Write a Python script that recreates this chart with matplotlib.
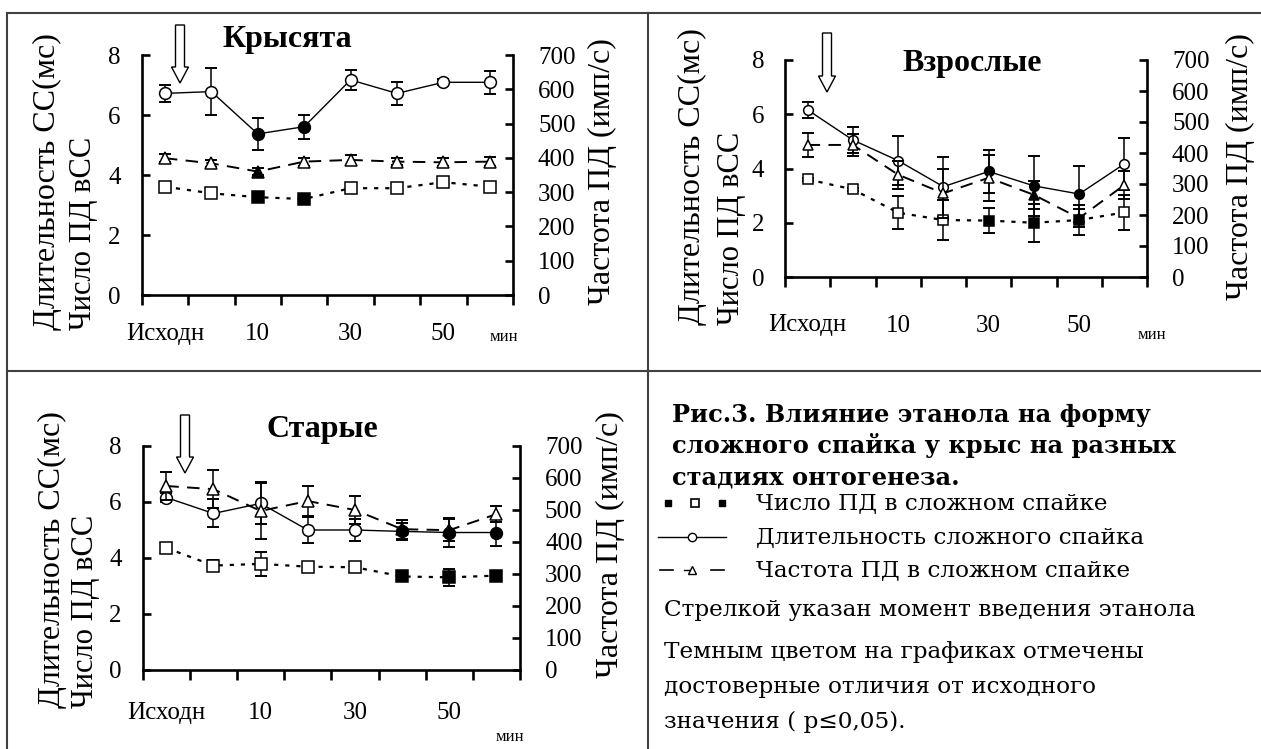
import numpy as np
import matplotlib
matplotlib.use('Agg')
import matplotlib.pyplot as plt
from matplotlib.patches import Polygon

plt.rcParams['font.family'] = ['Liberation Serif', 'DejaVu Serif']
plt.rcParams['lines.scale_dashes'] = False

# ---------------- data ----------------
x_labels = ['Исходн', '', '10', '', '30', '', '50', 'мин']
panel_titles = ['Крысята', 'Взрослые', 'Старые']

# Крысята
pups_dur = [6.72, 6.78, 5.37, 5.61, 7.17, 6.72, 7.09, 7.09]
pups_dur_err = [0.29, 0.78, 0.53, 0.40, 0.34, 0.37, 0.10, 0.39]
pups_dur_sig = [0, 0, 1, 1, 0, 0, 0, 0]
pups_num = [3.61, 3.39, 3.26, 3.20, 3.56, 3.56, 3.76, 3.61]
pups_num_err = [0.05, 0.12, 0.08, 0.08, 0.08, 0.12, 0.10, 0.06]
pups_num_sig = [0, 0, 1, 1, 0, 0, 0, 0]
pups_frq = [399, 384, 360, 389, 394, 389, 387, 389]
pups_frq_err = [12, 10, 10, 12, 14, 10, 12, 14]
pups_frq_sig = [0, 0, 1, 0, 0, 0, 0, 0]

# Взрослые
adult_dur = [6.16, 5.05, 4.29, 3.33, 3.89, 3.36, 3.06, 4.17]
adult_dur_err = [0.30, 0.48, 0.90, 1.10, 0.80, 1.10, 1.05, 0.97]
adult_dur_sig = [0, 0, 0, 0, 1, 1, 1, 0]
adult_num = [3.60, 3.23, 2.37, 2.10, 2.08, 2.00, 2.10, 2.38]
adult_num_err = [0.05, 0.06, 0.60, 0.74, 0.45, 0.70, 0.55, 0.65]
adult_num_sig = [0, 0, 0, 0, 1, 1, 1, 0]
adult_frq = [426, 426, 330, 270, 320, 265, 190, 297]
adult_frq_err = [40, 35, 45, 80, 75, 45, 30, 45]
adult_frq_sig = [0, 0, 0, 0, 0, 1, 1, 0]

# Старые
old_dur = [6.16, 5.59, 5.95, 5.00, 5.00, 4.95, 4.91, 4.91]
old_dur_err = [0.15, 0.50, 0.75, 0.47, 0.40, 0.30, 0.53, 0.47]
old_dur_sig = [0, 0, 0, 0, 0, 1, 1, 1]
old_num = [4.36, 3.73, 3.79, 3.69, 3.67, 3.34, 3.31, 3.37]
old_num_err = [0.12, 0.20, 0.43, 0.08, 0.08, 0.10, 0.30, 0.12]
old_num_sig = [0, 0, 0, 0, 0, 1, 1, 1]
old_frq = [575, 565, 497, 528, 500, 440, 437, 487]
old_frq_err = [44, 60, 88, 47, 44, 30, 35, 26]
old_frq_sig = [0, 0, 0, 0, 0, 1, 1, 0]

left_ticks = [0, 2, 4, 6, 8]
right_ticks = [0, 100, 200, 300, 400, 500, 600, 700]

caption_lines = ['Рис.3. Влияние этанола на форму',
                 'сложного спайка у крыс на разных',
                 'стадиях онтогенеза.']
legend_labels = ['Число ПД в сложном спайке',
                 'Длительность сложного спайка',
                 'Частота ПД в сложном спайке']
note_lines = ['Стрелкой указан момент введения этанола',
              'Темным цветом на графиках отмечены',
              'достоверные отличия от исходного',
              'значения ( p≤0,05).']

# ---------------- figure ----------------
W, H = 1261, 749
fig = plt.figure(figsize=(W / 100, H / 100), dpi=100)
fig.patch.set_facecolor('white')
WIDE = ['DejaVu Serif', 'Liberation Serif']


def px_rect(l, r, t, b):
    return [l / W, 1 - b / H, (r - l) / W, (b - t) / H]


def series(ax, x, y, err, sig, marker, ms, ls, lw):
    y = np.asarray(y, float)
    sig = np.asarray(sig, bool)
    ax.errorbar(x, y, yerr=err, fmt='none', ecolor='k', elinewidth=1.1,
                capsize=4, capthick=1.4, zorder=2)
    ax.plot(x, y, linestyle=ls, color='k', lw=lw, zorder=3)
    ax.plot(x[~sig], y[~sig], linestyle='none', marker=marker, ms=ms,
            mfc='white', mec='k', mew=1.1, zorder=4)
    ax.plot(x[sig], y[sig], linestyle='none', marker=marker, ms=ms,
            mfc='k', mec='k', mew=1.1, zorder=4)


def panel(rect, dur, dur_err, dur_sig, num, num_err, num_sig,
          frq, frq_err, frq_sig, ms, xpad):
    ax = fig.add_axes(rect)
    ax2 = ax.twinx()
    x = np.arange(len(x_labels))
    ax.set_xlim(-0.5, len(x_labels) - 0.5)
    ax.set_ylim(0, 8)
    ax2.set_ylim(0, 700)
    ax.patch.set_alpha(0)

    series(ax, x, dur, dur_err, dur_sig, 'o', ms, '-', 1.0)
    series(ax, x, num, num_err, num_sig, 's', ms, (0, (3, 5)), 1.6)
    series(ax2, x, frq, frq_err, frq_sig, '^', ms, (0, (9, 6)), 1.4)

    for s in ['top', 'right']:
        ax.spines[s].set_visible(False)
    for s in ['top', 'left', 'bottom']:
        ax2.spines[s].set_visible(False)
    for s in ['left', 'bottom']:
        ax.spines[s].set_linewidth(1.9)
    ax2.spines['right'].set_linewidth(1.9)

    ax.set_yticks(left_ticks)
    ax.tick_params(axis='y', direction='in', length=6, width=1.9, pad=15,
                   labelsize=18)
    ax2.set_yticks(right_ticks)
    ax2.tick_params(axis='y', direction='in', length=6, width=1.9, pad=18,
                    labelsize=18)
    ax.set_xticks(np.arange(-0.5, len(x_labels), 1.0))
    ax.set_xticklabels([])
    ax.tick_params(axis='x', which='major', direction='out', length=7,
                   width=1.9)
    ax.set_xticks(x, minor=True)
    ax.set_xticklabels(x_labels[:-1] + [''], minor=True)
    ax.tick_params(axis='x', which='minor', length=0, pad=xpad, labelsize=18)
    return ax


panel(px_rect(141.7, 513, 55, 295), pups_dur, pups_dur_err, pups_dur_sig,
      pups_num, pups_num_err, pups_num_sig, pups_frq, pups_frq_err,
      pups_frq_sig, 8.5, 20)
panel(px_rect(785, 1147, 60, 277), adult_dur, adult_dur_err, adult_dur_sig,
      adult_num, adult_num_err, adult_num_sig, adult_frq, adult_frq_err,
      adult_frq_sig, 7, 27)
panel(px_rect(142.7, 520, 446, 670), old_dur, old_dur_err, old_dur_sig,
      old_num, old_num_err, old_num_sig, old_frq, old_frq_err,
      old_frq_sig, 8.5, 23)

# ---------------- overlay (decorations, text) ----------------
ov = fig.add_axes([0, 0, 1, 1])
ov.set_xlim(0, W)
ov.set_ylim(H, 0)
ov.axis('off')

bc = '#404040'
ov.plot([7, W], [13, 13], color=bc, lw=1.5)
ov.plot([7, W], [371, 371], color=bc, lw=1.5)
ov.plot([7, 7], [13, H], color=bc, lw=1.5)
ov.plot([648, 648], [13, H], color=bc, lw=1.5)

# panel titles
for (tx, ty), t in zip([(287, 40), (972, 63), (322, 430)], panel_titles):
    ov.text(tx, ty, t, fontsize=23, fontweight='bold', ha='center',
            va='center')

# axis labels
for xl1, xl2, xr, yb, yr in [(47, 84, 602, 330, 305),
                             (692, 732, 1240, 325, 300),
                             (52, 86, 610, 708, 678)]:
    ov.text(xl1, yb, 'Длительность СС(мс)', rotation=90, fontsize=23,
            ha='center', va='bottom')
    ov.text(xl2, yb, 'Число ПД вСС', rotation=90, fontsize=22,
            ha='center', va='bottom')
    ov.text(xr, yr, 'Частота ПД (имп/с)', rotation=90, fontsize=23,
            ha='center', va='bottom')

# "мин" unit labels
for mx, my in [(504, 337), (1152, 335), (510, 737)]:
    ov.text(mx, my, x_labels[-1], fontsize=12, ha='center', va='center')


# arrows (moment of ethanol injection)
def hollow_arrow(x, top, tip, sw=9, hw=17, hl=16):
    pts = [(x - sw / 2, top), (x + sw / 2, top), (x + sw / 2, tip - hl),
           (x + hw / 2, tip - hl), (x, tip), (x - hw / 2, tip - hl),
           (x - sw / 2, tip - hl)]
    ov.add_patch(Polygon(pts, closed=True, fc='white', ec='k', lw=1.0))


hollow_arrow(180, 25, 83)
hollow_arrow(827, 33, 92)
hollow_arrow(185, 415, 473)

# caption
for i, line in enumerate(caption_lines):
    ov.text(672, 415 + i * 31, line, fontsize=17.4, fontweight='bold',
            family=WIDE, ha='left', va='center')

# legend symbols
ly = [503, 537, 570]
ov.plot([668, 722], [ly[0], ly[0]], linestyle='none', marker='s', ms=4,
        color='k')
ov.plot([695], [ly[0]], marker='s', ms=6, mfc='white', mec='k', mew=1.2)
ov.plot([658, 726], [ly[1], ly[1]], color='k', lw=1.0)
ov.plot([692], [ly[1]], marker='o', ms=6, mfc='white', mec='k', mew=1.0)
ov.plot([660, 673], [ly[2], ly[2]], color='k', lw=1.2)
ov.plot([711, 724], [ly[2], ly[2]], color='k', lw=1.2)
ov.plot([684, 692], [ly[2], ly[2]], color='k', lw=1.0)
ov.plot([692], [ly[2]], marker='^', ms=6, mfc='white', mec='k', mew=1.0)
for y, t in zip(ly, legend_labels):
    ov.text(756, y, t, fontsize=16.7, family=WIDE, ha='left', va='center')

for y, t in zip([610, 652, 687, 722], note_lines):
    ov.text(664, y, t, fontsize=16.7, family=WIDE, ha='left', va='center')

fig.savefig('out.png', dpi=100)
